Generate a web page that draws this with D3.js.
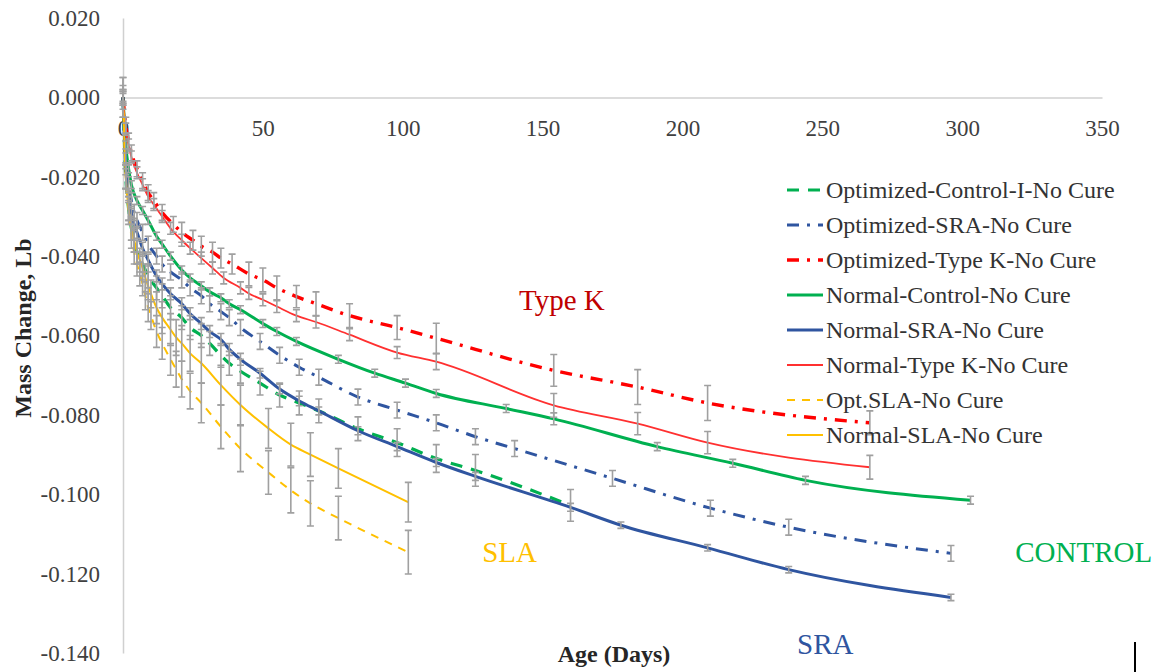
<!DOCTYPE html>
<html>
<head>
<meta charset="utf-8">
<script src="https://cdn.jsdelivr.net/npm/d3@7"></script>
<style>
  body { margin: 0; background: #fff; }
  text { font-family: 'Liberation Serif', 'Times New Roman', serif; }
  .tick text { fill: #404040; font-size: 23px; font-family: 'Liberation Serif', serif; }
  .domain { stroke: #d0d0d0; stroke-width: 1.5px; }
  .legend text { fill: #333; font-size: 24px; }
  .title { fill: #262626; font-size: 24px; font-weight: bold; }
  .note { font-size: 29px; }
  .err { stroke: #a0a0a0; stroke-width: 1.6px; fill: none; }
</style>
</head>
<body>
<div id="chart"></div>
<script>
// [age in days, mass change (lb), error]
var optControl = [[0,0,0.003],[1,-0.020,0.003],[2,-0.028,0.003],[3,-0.033,0.003],[4,-0.036,0.003],[5,-0.039,0.003],
  [7,-0.042,0.003],[9,-0.045,0.003],[12,-0.048,0.003],[14,-0.050,0.003],[17,-0.053,0.003],[21,-0.0555,0.003],
  [24,-0.058,0.003],[28,-0.060,0.003],[31,-0.062,0.003],[35,-0.065,0.003],[38,-0.067,0.003],[42,-0.069,0.003],
  [49,-0.072,0.003],[56,-0.075,0.003],[63,-0.077,0.003],[70,-0.079,0.003],[84,-0.0835,0.003],[98,-0.087,0.0035],
  [112,-0.091,0.0035],[126,-0.094,0.004],[160,-0.1028,0.004]];

var optSRA = [[0,0,0.002],[1,-0.016,0.002],[2,-0.022,0.002],[3,-0.026,0.002],[4,-0.029,0.002],[5,-0.031,0.002],
  [7,-0.034,0.002],[9,-0.037,0.002],[12,-0.040,0.002],[14,-0.042,0.002],[17,-0.044,0.002],[21,-0.046,0.002],
  [24,-0.048,0.002],[28,-0.050,0.002],[31,-0.052,0.002],[35,-0.054,0.002],[38,-0.0555,0.002],[42,-0.058,0.002],
  [49,-0.0615,0.002],[56,-0.065,0.002],[63,-0.068,0.002],[70,-0.0705,0.002],[84,-0.0755,0.002],[98,-0.0788,0.002],
  [112,-0.082,0.002],[126,-0.0855,0.002],[140,-0.0885,0.002],[175,-0.096,0.002],[210,-0.1035,0.002],
  [238,-0.1083,0.002],[296,-0.1149,0.002]];

var optTypeK = [[0,0,0.002],[1,-0.007,0.002],[2,-0.011,0.002],[3,-0.014,0.002],[5,-0.018,0.002],[7,-0.021,0.002],
  [9,-0.024,0.002],[11,-0.026,0.002],[14,-0.029,0.002],[18,-0.032,0.002],[21,-0.034,0.0025],[25,-0.036,0.0025],
  [28,-0.0375,0.0025],[32,-0.039,0.0025],[35,-0.0405,0.0025],[39,-0.042,0.0025],[45,-0.0445,0.003],[50,-0.046,0.003],
  [55,-0.048,0.003],[62,-0.0502,0.0028],[69,-0.052,0.003],[81,-0.055,0.003],[98,-0.058,0.003],[112,-0.0607,0.0038],
  [154,-0.0688,0.004],[184,-0.073,0.0044],[209,-0.077,0.0044],[267,-0.082,0.003]];

var normControl = [[0,0,0.001],[1,-0.012,0.001],[2,-0.018,0.001],[3,-0.022,0.001],[5,-0.026,0.001],[7,-0.0285,0.001],
  [9,-0.031,0.001],[12,-0.035,0.001],[14,-0.037,0.001],[17,-0.040,0.001],[21,-0.0435,0.001],[24,-0.0455,0.001],
  [28,-0.0475,0.001],[31,-0.049,0.001],[35,-0.0505,0.001],[38,-0.052,0.001],[42,-0.0535,0.001],[50,-0.057,0.001],
  [55,-0.059,0.001],[62,-0.0615,0.001],[77,-0.066,0.001],[90,-0.0695,0.001],[101,-0.072,0.001],[112,-0.0746,0.001],
  [137,-0.0784,0.001],[154,-0.081,0.0015],[191,-0.088,0.001],[218,-0.0922,0.001],[244,-0.0965,0.001],[303,-0.1015,0.001]];

var normSRA = [[0,0,0.0015],[1,-0.018,0.0015],[2,-0.025,0.0015],[3,-0.029,0.0015],[4,-0.032,0.0015],[5,-0.034,0.0015],
  [7,-0.038,0.0015],[9,-0.041,0.0015],[12,-0.045,0.0015],[14,-0.047,0.0015],[17,-0.0495,0.0015],[21,-0.052,0.0015],
  [24,-0.0545,0.0015],[28,-0.057,0.0015],[31,-0.059,0.0015],[35,-0.061,0.0015],[38,-0.0635,0.0015],[42,-0.066,0.0015],
  [49,-0.0695,0.0012],[56,-0.0735,0.0012],[63,-0.0765,0.0012],[70,-0.079,0.001],[84,-0.084,0.001],[98,-0.088,0.001],
  [112,-0.092,0.001],[126,-0.0955,0.001],[160,-0.1033,0.001],[178,-0.1078,0.0008],[209,-0.1135,0.0008],
  [238,-0.119,0.0008],[296,-0.126,0.0008]];

var normTypeK = [[0,0,0.0015],[1,-0.008,0.0015],[2,-0.012,0.0015],[3,-0.015,0.0015],[5,-0.019,0.0015],[7,-0.022,0.0015],
  [9,-0.025,0.0015],[11,-0.027,0.0015],[14,-0.030,0.0015],[17,-0.033,0.0015],[21,-0.036,0.0015],[24,-0.038,0.0015],
  [28,-0.0405,0.0015],[32,-0.043,0.0015],[36,-0.0455,0.0015],[42,-0.048,0.0015],[45,-0.0494,0.0015],[50,-0.051,0.0015],
  [55,-0.0527,0.0015],[62,-0.055,0.0015],[69,-0.0566,0.0015],[81,-0.0598,0.0015],[98,-0.0643,0.0015],
  [112,-0.0666,0.002],[154,-0.0776,0.003],[184,-0.0822,0.0028],[209,-0.087,0.0028],[267,-0.0932,0.003]];

var optSLA = [[0,0,0.005],[1,-0.020,0.003],[2,-0.029,0.003],[3,-0.035,0.003],[4,-0.039,0.003],[5,-0.042,0.003],
  [6,-0.0445,0.003],[7,-0.047,0.003],[8,-0.050,0.0035],[9,-0.053,0.0035],[10,-0.055,0.0035],[12,-0.059,0.004],
  [14,-0.062,0.004],[17,-0.066,0.004],[19,-0.0685,0.0045],[21,-0.071,0.0045],[24,-0.074,0.0045],[28,-0.077,0.005],
  [35,-0.083,0.0055],[42,-0.0885,0.0058],[52,-0.0945,0.0055],[60,-0.099,0.0057],[67,-0.1023,0.0057],
  [77,-0.106,0.0055],[102,-0.1146,0.0055]];

var normSLA = [[0,0,0.005],[1,-0.020,0.003],[2,-0.028,0.003],[3,-0.033,0.003],[4,-0.036,0.003],[5,-0.039,0.003],
  [6,-0.041,0.003],[7,-0.043,0.003],[8,-0.0455,0.0035],[9,-0.0475,0.0035],[10,-0.0495,0.0035],[12,-0.053,0.004],
  [14,-0.0555,0.004],[17,-0.0585,0.004],[19,-0.0605,0.0045],[21,-0.062,0.0045],[24,-0.0645,0.0045],[28,-0.067,0.005],
  [35,-0.0725,0.005],[42,-0.0775,0.005],[52,-0.0834,0.005],[60,-0.0875,0.0054],[67,-0.090,0.0055],
  [77,-0.0935,0.005],[102,-0.102,0.005]];

var seriesNames = ["Optimized-Control-I-No Cure", "Optimized-SRA-No Cure", "Optimized-Type K-No Cure",
  "Normal-Control-No Cure", "Normal-SRA-No Cure", "Normal-Type K-No Cure", "Opt.SLA-No Cure", "Normal-SLA-No Cure"];
var seriesData = [optControl, optSRA, optTypeK, normControl, normSRA, normTypeK, optSLA, normSLA];

var xTicks = [0, 50, 100, 150, 200, 250, 300, 350];
var yTicks = [0.02, 0, -0.02, -0.04, -0.06, -0.08, -0.1, -0.12, -0.14];

var green = "#00b050", blue = "#2f55a0", red = "#ff0000", gold = "#ffc000";
var styles = [
  {color: green, w: 3.2, dash: "12,9"},
  {color: blue, w: 3, dash: "12,8,3,8"},
  {color: red, w: 3.4, dash: "12,8,3,8"},
  {color: green, w: 3, dash: null},
  {color: blue, w: 3, dash: null},
  {color: "#ff3030", w: 1.8, dash: null},
  {color: gold, w: 2, dash: "8,7"},
  {color: gold, w: 2, dash: null}
];

var width = 1176, height = 672;
var svg = d3.select("#chart").append("svg")
  .attr("width", width)
  .attr("height", height);

var x = d3.scaleLinear().domain([0, 350]).range([123, 1102]);
var y = d3.scaleLinear().domain([-0.14, 0.02]).range([653, 18]);

// axes
svg.append("g")
  .attr("transform", "translate(" + x(0) + ",0)")
  .call(d3.axisLeft(y).tickValues(yTicks).tickSize(0).tickSizeOuter(0).tickPadding(23)
    .tickFormat(d => d.toFixed(3)));

svg.append("g")
  .attr("transform", "translate(0," + y(0) + ")")
  .call(d3.axisBottom(x).tickValues(xTicks).tickSize(0).tickSizeOuter(0).tickPadding(22)
    .tickFormat(d3.format("d")));

// lines
var line = d3.line()
  .x(d => x(d[0]))
  .y(d => y(d[1]))
  .curve(d3.curveMonotoneX);

seriesData.forEach(function (data, i) {
  svg.append("path")
    .datum(data)
    .attr("fill", "none")
    .attr("stroke", styles[i].color)
    .attr("stroke-width", styles[i].w)
    .attr("stroke-dasharray", styles[i].dash)
    .attr("d", line);
});

// error bars on top
var cap = 3.5;
seriesData.forEach(function (data) {
  var g = svg.append("g").attr("class", "err");
  data.forEach(function (d) {
    var x0 = x(d[0]), y1 = y(d[1] + d[2]), y2 = y(d[1] - d[2]);
    g.append("path")
      .attr("d", "M" + x0 + "," + y1 + "V" + y2 +
        "M" + (x0 - cap) + "," + y1 + "H" + (x0 + cap) +
        "M" + (x0 - cap) + "," + y2 + "H" + (x0 + cap));
  });
});

// legend
var legend = svg.append("g").attr("class", "legend")
  .attr("transform", "translate(787,190)");
seriesNames.forEach(function (name, i) {
  var row = legend.append("g").attr("transform", "translate(0," + i * 35 + ")");
  row.append("line")
    .attr("x1", 0).attr("x2", 36)
    .attr("stroke", styles[i].color)
    .attr("stroke-width", styles[i].w)
    .attr("stroke-dasharray", styles[i].dash);
  row.append("text")
    .attr("x", 39)
    .attr("dy", "0.34em")
    .text(name);
});

// axis titles
svg.append("text")
  .attr("class", "title")
  .attr("text-anchor", "middle")
  .attr("transform", "translate(31,328) rotate(-90)")
  .text("Mass Change, Lb");

svg.append("text")
  .attr("class", "title")
  .attr("text-anchor", "middle")
  .attr("x", 614)
  .attr("y", 662)
  .text("Age (Days)");

// group labels
var notes = [
  {text: "Type K", day: 141.6, mass: -0.0536, color: "#c00000"},
  {text: "SLA", day: 128.4, mass: -0.117, color: gold},
  {text: "CONTROL", day: 319, mass: -0.117, color: green},
  {text: "SRA", day: 241, mass: -0.1402, color: blue}
];
svg.selectAll(".note")
  .data(notes)
  .enter()
  .append("text")
  .attr("class", "note")
  .attr("x", d => x(d.day))
  .attr("y", d => y(d.mass))
  .attr("fill", d => d.color)
  .text(d => d.text);

// stray cursor mark at the bottom right
svg.append("line")
  .attr("x1", 1135).attr("x2", 1135)
  .attr("y1", 642).attr("y2", 672)
  .attr("stroke", "#000")
  .attr("stroke-width", 2);
</script>
</body>
</html>
